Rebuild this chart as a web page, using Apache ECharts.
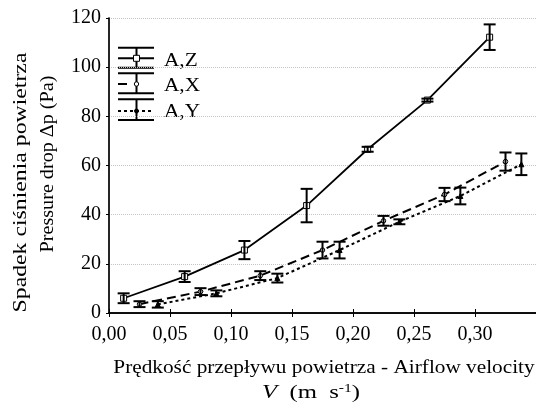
<!DOCTYPE html>
<html>
<head>
<meta charset="utf-8">
<script src="https://cdn.jsdelivr.net/npm/echarts@6/dist/echarts.min.js"></script>
<style>html,body{margin:0;padding:0;background:#fff}#c{width:536px;height:405px}</style>
</head>
<body>
<div id="c"></div>
<script>
// Data
var seriesNames = ['A,Z', 'A,X', 'A,Y'];
var velZ = [0.012, 0.062, 0.111, 0.162, 0.212, 0.261, 0.312];
var dpZ  = [6.0, 14.8, 25.6, 43.7, 66.6, 86.6, 112.2];
var errZ = [2.0, 2.2, 3.7, 6.8, 1.0, 0.6, 5.2];
var velX = [0.025, 0.075, 0.124, 0.175, 0.225, 0.275, 0.325];
var dpX  = [3.6, 8.7, 15.2, 25.6, 37.5, 48.2, 61.6];
var errX = [1.2, 1.4, 1.8, 3.4, 2.0, 2.7, 3.7];
var velY = [0.040, 0.088, 0.138, 0.189, 0.238, 0.288, 0.338];
var dpY  = [3.5, 8.0, 14.2, 25.6, 37.1, 47.6, 60.5];
var errY = [1.3, 1.2, 1.8, 3.4, 1.0, 3.4, 4.4];
var xMin = 0, xMax = 0.35, xStep = 0.05;
var yMin = 0, yMax = 120, yStep = 20;
var yTitle1 = 'Spadek ciśnienia powietrza';
var yTitle2 = 'Pressure drop Δp (Pa)';
var xTitle1 = 'Prędkość przepływu powietrza - Airflow velocity';

var FONT = 'Liberation Serif';
var SX = 1.12;
function pairs(xs, ys) { return xs.map(function (x, i) { return [x, ys[i]]; }); }
function triples(xs, ys, es) { return xs.map(function (x, i) { return [x, ys[i], es[i]]; }); }

function errRender(params, api) {
  var x = api.value(0), y = api.value(1), e = api.value(2);
  var top = api.coord([x, y + e]);
  var bot = api.coord([x, y - e]);
  var hw = 6;
  var st = { stroke: '#000', lineWidth: 2 };
  return {
    type: 'group',
    children: [
      { type: 'line', shape: { x1: top[0], y1: top[1], x2: bot[0], y2: bot[1] }, style: st },
      { type: 'line', shape: { x1: top[0] - hw, y1: top[1], x2: top[0] + hw, y2: top[1] }, style: st },
      { type: 'line', shape: { x1: bot[0] - hw, y1: bot[1], x2: bot[0] + hw, y2: bot[1] }, style: st }
    ]
  };
}

function txt(s, x, y, align, extra) {
  var o = { type: 'text', x: x, y: y, style: {
    text: s, fontFamily: FONT, fontSize: 19, fill: '#000',
    textAlign: align, align: align, verticalAlign: 'middle', textVerticalAlign: 'middle'
  } };
  if (extra) { for (var k in extra) o[k] = extra[k]; }
  return o;
}

var chart = echarts.init(document.getElementById('c'), null, { renderer: 'canvas' });

function legendItem(yTop, yMid, yBot, dash, midR, symbol, textY, label) {
  var L = 118, R = 154, C = 136.5;
  var st = { stroke: '#000', lineWidth: 2 };
  var els = [
    { type: 'line', shape: { x1: L, y1: yTop, x2: R, y2: yTop }, style: st },
    { type: 'line', shape: { x1: L, y1: yBot, x2: R, y2: yBot }, style: st },
    { type: 'line', shape: { x1: C, y1: yTop, x2: C, y2: yBot }, style: st },
    { type: 'line', shape: { x1: L, y1: yMid, x2: midR, y2: yMid }, style: { stroke: '#000', lineWidth: 2, lineDash: dash } }
  ];
  if (symbol === 'rect') {
    els.push({ type: 'rect', shape: { x: C - 3, y: yMid - 3, width: 6, height: 6 }, style: { fill: '#fff', stroke: '#000', lineWidth: 1 } });
  } else if (symbol === 'circle') {
    els.push({ type: 'circle', shape: { cx: C, cy: yMid, r: 2.2 }, style: { fill: '#fff', stroke: '#000', lineWidth: 1 } });
  } else {
    els.push({ type: 'circle', shape: { cx: C, cy: yMid, r: 2 }, style: { fill: '#000', stroke: '#000', lineWidth: 1 } });
  }
  els.push(txt(label, 164, textY, 'left', { scaleX: SX }));
  return els;
}

var graphics = []
  .concat(legendItem(47.7, 58.3, 67.7, null, 154, 'rect', 61, seriesNames[0]))
  .concat(legendItem(73.3, 84, 93.3, null, 127, 'circle', 86.5, seriesNames[1]))
  .concat(legendItem(99.3, 111, 120, [3, 3], 154, 'dot', 112, seriesNames[2]));

graphics.push(txt(yTitle1, 21, 182.5, 'center', { rotation: Math.PI / 2, scaleX: 1.25 }));
graphics.push(txt(yTitle2, 48, 164, 'center', { rotation: Math.PI / 2, scaleX: 1.06 }));
graphics.push(txt(xTitle1, 324, 368, 'center', { scaleX: SX }));
var vt = txt('{i|V}  (m  s{s|-1})', 311, 393, 'center', { scaleX: 1.3 });
vt.style.rich = {
  i: { fontStyle: 'italic', fontFamily: FONT, fontSize: 19 },
  s: { fontFamily: FONT, fontSize: 12, verticalAlign: 'top', padding: [0, 0, 8, 0] }
};
graphics.push(vt);

var option = {
  backgroundColor: '#fff',
  animation: false,
  grid: { left: 109, top: 18, width: 427, height: 295, containLabel: false },
  xAxis: [{
    type: 'value', min: xMin, max: xMax, interval: xStep, position: 'bottom',
    axisLine: { show: true, lineStyle: { color: '#000', width: 1.5 } },
    axisTick: { show: true, inside: true, length: 4, lineStyle: { color: '#000' } },
    axisLabel: { showMaxLabel: false, margin: 12, color: '#000', fontFamily: FONT, fontSize: 20,
      formatter: function (v) { return v.toFixed(2).replace('.', ','); } },
    splitLine: { show: false }
  }, {
    type: 'value', min: xMin, max: xMax, interval: xStep, position: 'top',
    axisLine: { show: true, lineStyle: { color: '#000', width: 1.5 } },
    axisTick: { show: true, inside: true, length: 4, lineStyle: { color: '#000' } },
    axisLabel: { show: false }, splitLine: { show: false }
  }],
  yAxis: [{
    type: 'value', min: yMin, max: yMax, interval: yStep, position: 'left',
    axisLine: { show: true, lineStyle: { color: '#777', width: 1.5 } },
    axisTick: { show: false },
    axisLabel: { margin: 8, color: '#000', fontFamily: FONT, fontSize: 20 },
    splitLine: { show: true, lineStyle: { color: '#c4c4c4', type: 'dotted', width: 1 } }
  }, {
    type: 'value', min: yMin, max: yMax, interval: yStep, position: 'right',
    axisLine: { show: true, lineStyle: { color: '#000', width: 1.5 } },
    axisTick: { show: true, inside: true, length: 3, lineStyle: { color: '#000' } },
    axisLabel: { show: false }, splitLine: { show: false }
  }],
  graphic: graphics,
  series: [
    { name: seriesNames[0], type: 'line', data: pairs(velZ, dpZ), symbol: 'rect', symbolSize: 6,
      lineStyle: { color: '#000', width: 1.8, type: 'solid' },
      itemStyle: { color: '#fff', borderColor: '#000', borderWidth: 1 }, z: 3 },
    { name: seriesNames[1], type: 'line', data: pairs(velX, dpX), symbol: 'circle', symbolSize: 4.5,
      lineStyle: { color: '#000', width: 2, type: [9, 5] },
      itemStyle: { color: '#fff', borderColor: '#000', borderWidth: 1 }, z: 3 },
    { name: seriesNames[2], type: 'line', data: pairs(velY, dpY), symbol: 'triangle', symbolSize: 5,
      lineStyle: { color: '#000', width: 2, type: [3, 3] },
      itemStyle: { color: '#000', borderColor: '#000', borderWidth: 1 }, z: 3 },
    { type: 'custom', renderItem: errRender, data: triples(velZ, dpZ, errZ), z: 4, encode: { x: 0, y: 1 } },
    { type: 'custom', renderItem: errRender, data: triples(velX, dpX, errX), z: 4, encode: { x: 0, y: 1 } },
    { type: 'custom', renderItem: errRender, data: triples(velY, dpY, errY), z: 4, encode: { x: 0, y: 1 } }
  ]
};
chart.setOption(option);
</script>
</body>
</html>
